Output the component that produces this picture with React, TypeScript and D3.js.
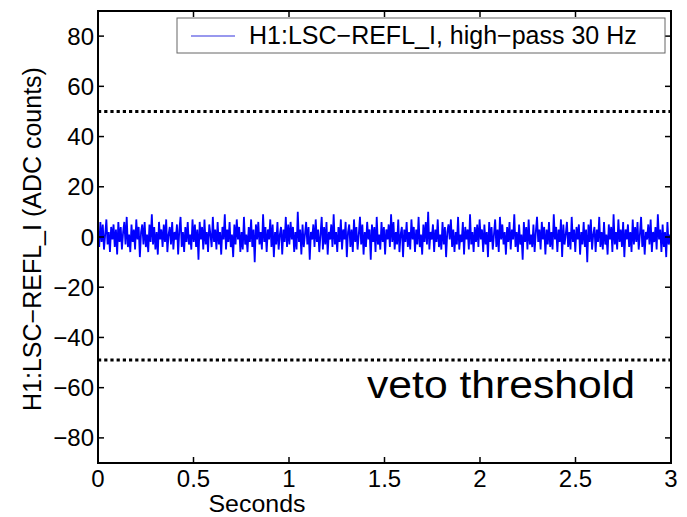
import React from "react";
import * as d3 from "d3";

const xTicks = [0, 0.5, 1, 1.5, 2, 2.5, 3];
const xTickLabels = ["0", "0.5", "1", "1.5", "2", "2.5", "3"];
const yTicks = [80, 60, 40, 20, 0, -20, -40, -60, -80];
const yTickLabels = ["80", "60", "40", "20", "0", "\u221220", "\u221240", "\u221260", "\u221280"];
const thresholds = [50, -49];
const seriesName = "H1:LSC\u2212REFL_I, high\u2212pass 30 Hz";
const xLabel = "Seconds";
const yLabel = "H1:LSC\u2212REFL_I  (ADC counts)";
const annotation = "veto threshold";

const signal = [
  3,-4,6,-2,5,-5,1,7,-3,2,-6,4,-1,5,-4,3,-7,6,-2,4,
  -5,2,6,-3,8,-4,1,-6,5,-2,3,-5,7,-1,4,-8,2,5,-3,6,
  -4,1,-6,5,-2,9,-3,4,-5,2,-7,6,-1,3,-4,5,-2,7,-6,1,
  4,-3,6,-5,2,-1,5,-7,3,8,-4,2,-6,4,-2,6,-3,1,-5,7,
  -2,5,-4,3,-9,6,-1,4,-5,7,-3,2,-6,5,1,-4,8,-2,3,-5,
  6,-3,2,-7,4,-1,9,-5,3,-2,6,-4,1,-8,5,-3,7,-1,4,-6,
  2,-5,8,-3,1,-6,4,-2,7,-4,3,-10,5,-1,6,-3,2,-5,9,-2,
  4,-6,3,-1,7,-4,5,-8,2,-3,6,-5,1,4,-7,3,-2,8,-4,5,
  -3,6,-1,4,-6,2,-5,10,-2,3,-7,5,-4,1,6,-3,4,-9,2,-1,
  5,-4,7,-2,3,-6,1,8,-5,4,-3,6,-7,2,-1,5,-4,9,-3,2,
  -6,4,-2,7,-5,3,-1,6,-8,2,5,-4,3,-6,7,-2,4,-5,1,8,
  -3,5,-7,2,-4,6,-1,3,-9,5,-2,4,-6,8,-3,1,-5,6,-2,4,
  -7,3,-1,5,-4,9,-2,6,-5,2,-3,7,-6,1,4,-8,3,-2,6,-4,
  2,-5,7,-1,4,-6,3,-3,8,-4,1,-7,5,-2,6,-3,10,-5,2,-1,
  5,-6,3,-2,7,-4,1,-5,6,-3,4,-8,2,5,-1,7,-4,3,-6,2,
  -3,8,-5,1,-2,6,-7,4,-1,3,-5,9,-3,2,-6,4,-2,5,-4,7,
  -1,3,-6,5,-3,2,-8,6,-2,4,-5,1,7,-4,3,-6,8,-1,5,-3,
  2,-7,4,-2,6,-5,3,-1,9,-4,2,-6,5,-3,1,-9,6,-2,4,-5,
  7,-3,1,-4,5,-6,2,8,-2,3,-5,6,-1,4,-7,3,-3,6,-4,2,
  -5,9,-1,4,-6,3,-2,7,-8,5,-3,1,6,-4,2,-5,8,-2,3,-6,
  4,-1,5,-7,2,-3,6,-4,3,-10,5,-2,7,-5,1,4,-6,3,-2,8,
  -4,2,-5,6,-3,1,-7,5,-1,4,-6,9,-3,2,-5,7,-2,3,-4,6,
  -8,3,-1,5,-4,2,-6,7,-3,4,-2,6,-5,1,8,-4,3,-7,2,-1,
  5,-3,7,-6,2,-2,4,-5,9,-1,3,-6,5,-4,2,-8,6,-3,1,-4,
];

const W = 687;
const H = 517;
const L = 98, R = 671, T = 11, B = 463;
const FONT = "'Liberation Sans', Arial, Helvetica, sans-serif";

export default function App() {
  const x = d3.scaleLinear().domain([0, 3]).range([L, R]);
  const y = d3.scaleLinear().domain([-90, 90]).range([B, T]);
  const n = signal.length;
  const line = d3
    .line<number>()
    .x((_, i) => x((i / (n - 1)) * 3))
    .y((d) => y(d));
  const tl = 6;

  return (
    <svg
      width={W}
      height={H}
      style={{ position: "absolute", left: 0, top: 0, background: "#fff" }}
      fontFamily={FONT}
    >
      <rect x={0} y={0} width={W} height={H} fill="#fff" />
      <path d={line(signal) || ""} fill="none" stroke="#0000ff" strokeWidth={1.8} strokeLinejoin="miter" />
      {thresholds.map((t, i) => (
        <line
          key={i}
          x1={L}
          x2={R}
          y1={y(t)}
          y2={y(t)}
          stroke="#000"
          strokeWidth={3}
          strokeDasharray="3.2 3"
        />
      ))}
      {/* frame */}
      <rect x={L} y={T} width={R - L} height={B - T} fill="none" stroke="#000" strokeWidth={2} />
      {xTicks.map((t, i) => (
        <g key={"x" + i}>
          <line x1={x(t)} x2={x(t)} y1={B} y2={B - tl} stroke="#000" strokeWidth={1.5} />
          <line x1={x(t)} x2={x(t)} y1={T} y2={T + tl} stroke="#000" strokeWidth={1.5} />
          <text x={x(t)} y={487} textAnchor="middle" fontSize={24} fill="#000">
            {xTickLabels[i]}
          </text>
        </g>
      ))}
      {yTicks.map((t, i) => (
        <g key={"y" + i}>
          <line x1={L} x2={L + tl} y1={y(t)} y2={y(t)} stroke="#000" strokeWidth={1.5} />
          <line x1={R} x2={R - tl} y1={y(t)} y2={y(t)} stroke="#000" strokeWidth={1.5} />
          <text x={94} y={y(t) + 8.5} textAnchor="end" fontSize={24} fill="#000">
            {yTickLabels[i]}
          </text>
        </g>
      ))}
      <text x={257} y={512} textAnchor="middle" fontSize={23} fill="#000" textLength={97} lengthAdjust="spacingAndGlyphs">
        {xLabel}
      </text>
      <text
        transform={`translate(41,239) rotate(-90)`}
        textAnchor="middle"
        fontSize={25}
        fill="#000"
      >
        {yLabel}
      </text>
      {/* legend */}
      <rect x={177} y={18} width={488} height={35} fill="#fff" stroke="#666" strokeWidth={1} />
      <line x1={191} x2={235} y1={36} y2={36} stroke="#3333dd" strokeWidth={1.2} />
      <text x={249} y={44} fontSize={25} fill="#000">
        {seriesName}
      </text>
      <text x={367} y={398} fontSize={38} fill="#000" textLength={268} lengthAdjust="spacingAndGlyphs">
        {annotation}
      </text>
    </svg>
  );
}
